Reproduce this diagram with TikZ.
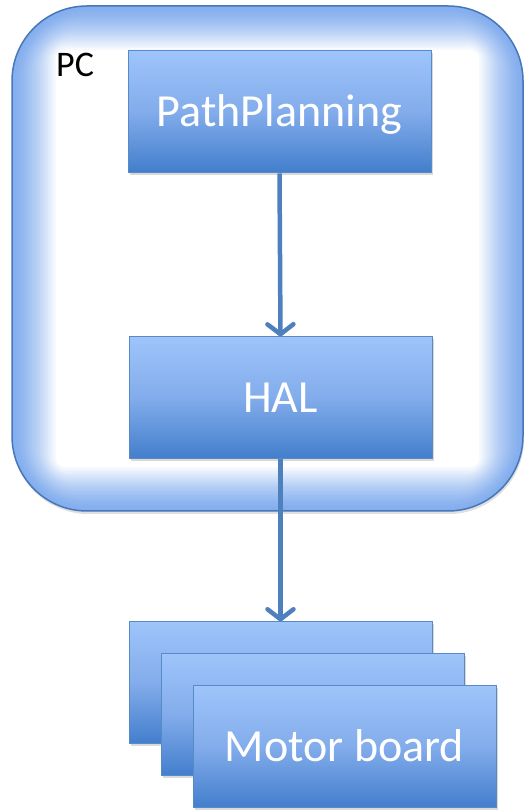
\documentclass[tikz,border=0pt]{standalone}
\usepackage{fontspec}
\setmainfont{Carlito}
\usetikzlibrary{arrows.meta,shadows}
\definecolor{boxtop}{RGB}{158,196,250}
\definecolor{boxmid}{RGB}{130,172,235}
\definecolor{boxbot}{RGB}{66,126,204}
\definecolor{boxline}{RGB}{88,138,200}
\definecolor{arrowblue}{RGB}{78,128,190}
\definecolor{glowblue}{RGB}{132,174,238}
\definecolor{pcline}{RGB}{70,120,185}
\begin{document}
\begin{tikzpicture}[x=1pt,y=1pt,
  blockbox/.style={draw=boxline, line width=1pt, top color=boxtop, bottom color=boxbot, middle color=boxmid,
    minimum width=303pt, minimum height=122pt, inner sep=0pt, text=white,
    font=\fontsize{46}{50}\selectfont, text height=29pt, text depth=0pt,
    drop shadow={shadow xshift=1.5pt, shadow yshift=-2pt, opacity=0.3}},
  flow/.style={arrowblue, line width=4.5pt, -{Straight Barb[length=10pt,width=26pt,line width=4.5pt,round]}}
]
\useasboundingbox (0,0) rectangle (524,811);
% PC container with inner glow
\fill[glowblue, rounded corners=75pt, drop shadow={shadow xshift=1pt, shadow yshift=-3pt, opacity=0.25}] (12,300) rectangle (523,805);
\foreach \i in {1,...,22}{
  \pgfmathsetmacro{\gd}{2*\i}
  \pgfmathtruncatemacro{\gp}{100*(\i/22)^1.4}
  \pgfmathsetmacro{\gr}{max(75-1.5*\gd,8)}
  \fill[white!\gp!glowblue, rounded corners=\gr pt] (12+\gd,300+\gd) rectangle (523-\gd,805-\gd);
}
\draw[pcline, line width=1.5pt, rounded corners=75pt] (12,300) rectangle (523,805);
\node[anchor=base west, inner sep=0pt, font=\fontsize{36}{40}\selectfont] (pclabel) at (56,734) {PC};
% blocks
\node[blockbox] (pp) at (279.5,699) {PathPlanning};
\node[blockbox] (hal) at (280.5,413) {HAL};
\node[blockbox] (m1) at (280.5,128) {};
\node[blockbox] (m2) at (312.5,96) {};
\node[blockbox] (m3) at (344.5,64) {Motor board};
% connectors
\draw[flow] (pp.south) -- (hal.north);
\draw[flow] (hal.south) -- (m1.north);
\end{tikzpicture}
\end{document}
